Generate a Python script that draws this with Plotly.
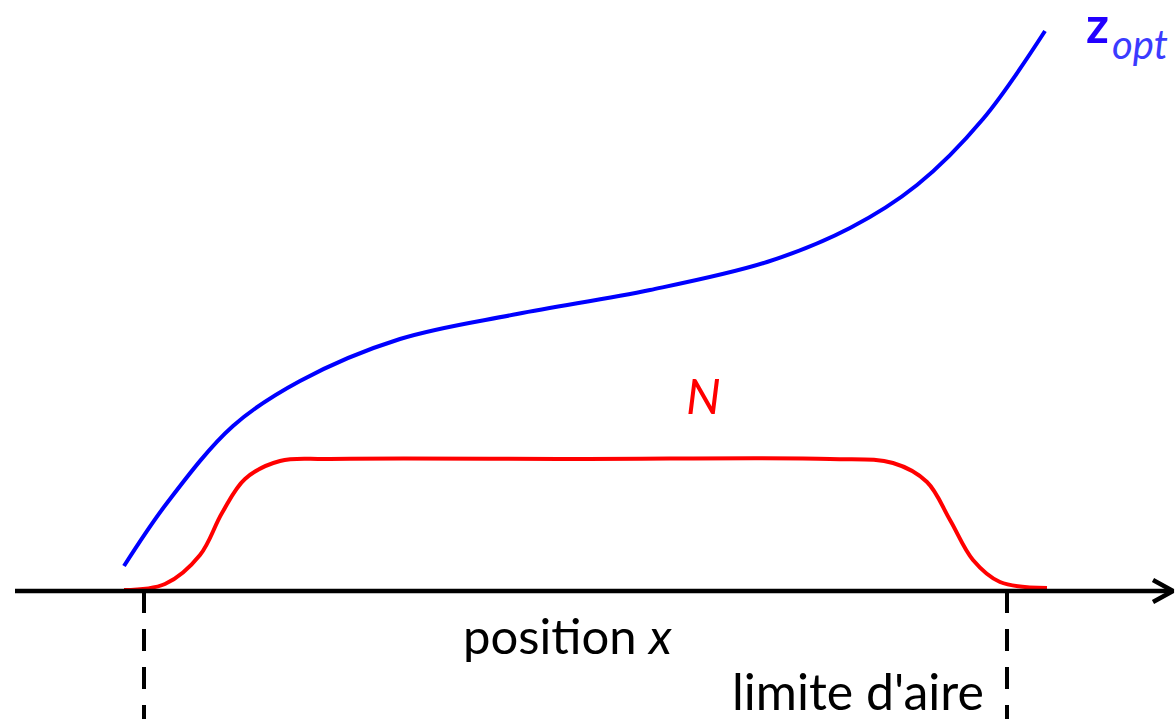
import plotly.graph_objects as go

# Schematic data (x = position, heights measured above the x axis)
zopt_x = [124, 167, 233, 300, 400, 517, 650, 767, 850, 917, 983, 1045]
zopt_y = [25, 88, 165, 210, 252, 277, 301, 329, 363, 406, 472, 560]

n_x = [124, 165, 200, 222, 245, 280, 330, 580, 830, 893, 927, 950, 973, 1000, 1047]
n_y = [1, 7, 36, 78, 112, 130, 132, 132, 132, 128, 109, 71, 31, 9, 3]

limit_x = [144, 1007]
axis_start, axis_end = 15, 1173
bottom = -128
top = 591

fig = go.Figure()
fig.add_trace(go.Scatter(x=zopt_x, y=zopt_y, mode="lines",
                         line=dict(color="#0000ff", width=4, shape="spline", smoothing=1.0), hoverinfo="skip"))
fig.add_trace(go.Scatter(x=n_x, y=n_y, mode="lines",
                         line=dict(color="#ff0000", width=4, shape="spline", smoothing=1.0), hoverinfo="skip"))

# x axis with open arrow head
fig.add_shape(type="line", x0=axis_start, x1=axis_end - 2, y0=0, y1=0, line=dict(color="black", width=4.5))
fig.add_trace(go.Scatter(x=[axis_end - 20, axis_end, axis_end - 20], y=[11, 0, -11], mode="lines",
                         line=dict(color="black", width=4.5), hoverinfo="skip"))

for lx in limit_x:
    fig.add_shape(type="line", x0=lx, x1=lx, y0=0, y1=bottom, line=dict(color="black", width=4, dash="22px,16px"))

fig.add_annotation(x=567, y=-44, text="position <i>x</i>", showarrow=False,
                   font=dict(family="Lato", size=49, color="black"))
fig.add_annotation(x=858, y=-100, text="limite d'aire", showarrow=False,
                   font=dict(family="Lato", size=50, color="black"))
fig.add_annotation(x=703, y=196, text="<i>N</i>", showarrow=False,
                   font=dict(family="Lato", size=49, color="#ff0000"))
fig.add_annotation(x=1097, y=top - 24, text="<b>z</b>", showarrow=False,
                   font=dict(family="Lato", size=50, color="#2200ff"))
fig.add_annotation(x=1140, y=top - 44, text="<i>opt</i>", showarrow=False,
                   font=dict(family="Lato", size=40, color="#3b3bff"))

fig.update_layout(
    width=1176, height=719,
    margin=dict(l=0, r=0, t=0, b=0),
    paper_bgcolor="white", plot_bgcolor="white",
    showlegend=False,
    xaxis=dict(range=[0, 1176], visible=False, fixedrange=True),
    yaxis=dict(range=[bottom, top], visible=False, fixedrange=True),
)
fig.write_html("out.html", config={"displayModeBar": False},
               post_script="document.body.style.margin='0';document.body.style.overflow='hidden';")
